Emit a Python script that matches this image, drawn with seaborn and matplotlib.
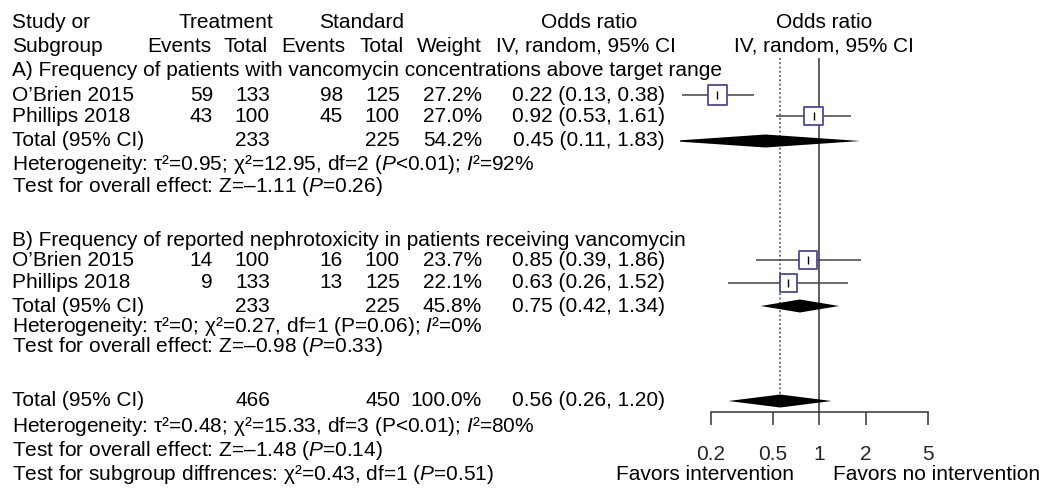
import numpy as np
import pandas as pd
import seaborn as sns
import matplotlib.pyplot as plt
from matplotlib.ticker import FixedLocator, NullLocator

# studies per subgroup
studies_a = ["O’Brien 2015", "Phillips 2018"]
ev_trt_a = [59, 43]
tot_trt_a = [133, 100]
ev_std_a = [98, 45]
tot_std_a = [125, 100]
weight_a = [27.2, 27.0]
or_a = [0.22, 0.92]
lo_a = [0.13, 0.53]
hi_a = [0.38, 1.61]

studies_b = ["O’Brien 2015", "Phillips 2018"]
ev_trt_b = [14, 9]
tot_trt_b = [100, 133]
ev_std_b = [16, 13]
tot_std_b = [100, 125]
weight_b = [23.7, 22.1]
or_b = [0.85, 0.63]
lo_b = [0.39, 0.26]
hi_b = [1.86, 1.52]

# pooled results: subgroup A, subgroup B, overall
pooled_trt = [233, 233, 466]
pooled_std = [225, 225, 450]
pooled_weight = [54.2, 45.8, 100.0]
pooled_or = [0.45, 0.75, 0.56]
pooled_lo = [0.11, 0.42, 0.26]
pooled_hi = [1.83, 1.34, 1.20]

ticks = [0.2, 0.5, 1, 2, 5]

sns.set_theme(style="white")
plt.rcParams['font.family'] = ['Liberation Sans', 'DejaVu Sans']
plt.rcParams['mathtext.fontset'] = 'custom'
plt.rcParams['mathtext.rm'] = 'Liberation Sans'
plt.rcParams['mathtext.it'] = 'Liberation Sans:italic'
FS = 15

W, H = 1048, 491
fig = plt.figure(figsize=(W / 100, H / 100), dpi=100)

# text layer in pixel coordinates
tx = fig.add_axes([0, 0, 1, 1])
tx.set_xlim(0, W)
tx.set_ylim(H, 0)
tx.axis('off')

# layout (pixel rows / columns)
y_hdr1, y_hdr2 = 22, 46
y_title_a = 70
y_rows_a = [95, 116]
y_tot_a, y_het_a, y_test_a = 141, 164, 187
y_title_b = 240
y_rows_b = [260, 283]
y_tot_b, y_het_b, y_test_b = 306, 326, 347
y_all, y_het_all, y_test_all, y_sub = 401, 427, 450, 474
y_axis = 412
x_left = 12
x_ev_t, x_tot_t, x_ev_s, x_tot_s, x_w, x_or = 213, 270, 343, 400, 482, 665


def t(x, y, s, ha='left'):
    tx.text(x, y, s, ha=ha, va='center', fontsize=FS, color='black')


def fmt_or(e, l, h):
    return f"{e:.2f} ({l:.2f}, {h:.2f})"


# headers
t(x_left, y_hdr1, "Study or")
t(x_left, y_hdr2, "Subgroup")
t(226, y_hdr1, "Treatment", 'center')
t(362, y_hdr1, "Standard", 'center')
t(179, y_hdr2, "Events", 'center')
t(246, y_hdr2, "Total", 'center')
t(313, y_hdr2, "Events", 'center')
t(382, y_hdr2, "Total", 'center')
t(x_w, y_hdr2, "Weight", 'right')
t(589, y_hdr1, "Odds ratio", 'center')
t(586, y_hdr2, "IV, random, 95% CI", 'center')
t(824, y_hdr1, "Odds ratio", 'center')
t(824, y_hdr2, "IV, random, 95% CI", 'center')

t(x_left, y_title_a, "A) Frequency of patients with vancomycin concentrations above target range")
t(x_left, y_title_b, "B) Frequency of reported nephrotoxicity in patients receiving vancomycin")

groups = [
    (studies_a, ev_trt_a, tot_trt_a, ev_std_a, tot_std_a, weight_a, or_a, lo_a, hi_a, y_rows_a),
    (studies_b, ev_trt_b, tot_trt_b, ev_std_b, tot_std_b, weight_b, or_b, lo_b, hi_b, y_rows_b),
]
for names, et, nt, es, ns, w, o, l, h, ys in groups:
    for i, y in enumerate(ys):
        t(x_left, y, names[i])
        t(x_ev_t, y, str(et[i]), 'right')
        t(x_tot_t, y, str(nt[i]), 'right')
        t(x_ev_s, y, str(es[i]), 'right')
        t(x_tot_s, y, str(ns[i]), 'right')
        t(x_w, y, f"{w[i]:.1f}%", 'right')
        t(x_or, y, fmt_or(o[i], l[i], h[i]), 'right')

for k, y in enumerate([y_tot_a, y_tot_b, y_all]):
    t(x_left, y, "Total (95% CI)")
    t(x_tot_t, y, str(pooled_trt[k]), 'right')
    t(x_tot_s, y, str(pooled_std[k]), 'right')
    t(x_w, y, f"{pooled_weight[k]:.1f}%", 'right')
    t(x_or, y, fmt_or(pooled_or[k], pooled_lo[k], pooled_hi[k]), 'right')

t(x_left, y_het_a, r"Heterogeneity: τ²=0.95; χ²=12.95, df=2 ($\mathit{P}$<0.01); $\mathit{I}$²=92%")
t(x_left, y_test_a, r"Test for overall effect: Z=–1.11 ($\mathit{P}$=0.26)")
t(x_left, y_het_b, r"Heterogeneity: τ²=0; χ²=0.27, df=1 (P=0.06); $\mathit{I}$²=0%")
t(x_left, y_test_b, r"Test for overall effect: Z=–0.98 ($\mathit{P}$=0.33)")
t(x_left, y_het_all, r"Heterogeneity: τ²=0.48; χ²=15.33, df=3 (P<0.01); $\mathit{I}$²=80%")
t(x_left, y_test_all, r"Test for overall effect: Z=–1.48 ($\mathit{P}$=0.14)")
t(x_left, y_sub, r"Test for subgroup diffrences: χ²=0.43, df=1 ($\mathit{P}$=0.51)")

# forest panel on a log axis: 1 at x=819.3 px, 155.4 px per decade
x0_px, x1_px, one_px, dec_px = 680, W, 819.3, 155.4
ax = fig.add_axes([x0_px / W, 0, (x1_px - x0_px) / W, 1])
ax.set_xscale('log')
ax.set_xlim(10 ** ((x0_px - one_px) / dec_px), 10 ** ((x1_px - one_px) / dec_px))
ax.set_ylim(H, 0)
ax.patch.set_alpha(0)

df = pd.DataFrame({
    'or': or_a + or_b,
    'lo': lo_a + lo_b,
    'hi': hi_a + hi_b,
    'weight': weight_a + weight_b,
    'y': y_rows_a + y_rows_b,
})
df['s'] = df['weight'] * 6.9

ax.vlines(1, 58, y_axis, color='#333333', lw=1.1)
ax.vlines(pooled_or[2], 58, y_all, color='#444444', lw=1.1, linestyles=(0, (1.2, 1.6)))
ax.hlines(df['y'], df['lo'], df['hi'], color='#444444', lw=1.1)
sns.scatterplot(data=df, x='or', y='y', marker='s', s=df['s'].values,
                facecolor='white', edgecolor='#4a4a9a', linewidth=1.3, ax=ax, zorder=3)
sns.scatterplot(data=df, x='or', y='y', marker='|', s=40, color='black',
                linewidth=1.0, ax=ax, zorder=4)

for k, y in enumerate([y_tot_a, y_tot_b, y_all]):
    e, l, h = pooled_or[k], pooled_lo[k], pooled_hi[k]
    ax.fill([l, e, h, e], [y, y - 6.5, y, y + 6.5], color='black', lw=0, zorder=3)

for side in ['top', 'right', 'left']:
    ax.spines[side].set_visible(False)
ax.spines['bottom'].set_position(('data', y_axis))
ax.spines['bottom'].set_bounds(ticks[0], ticks[-1])
ax.spines['bottom'].set_color('#333333')
ax.spines['bottom'].set_linewidth(1.1)
ax.xaxis.set_major_locator(FixedLocator(ticks))
ax.xaxis.set_minor_locator(NullLocator())
ax.set_xticklabels([f"{v:g}" for v in ticks], fontsize=FS)
ax.tick_params(axis='x', direction='out', length=9.4, width=1.1, color='#333333', pad=14,
               bottom=True)
ax.set_yticks([])
ax.set_xlabel('')
ax.set_ylabel('')

t(705, 474, "Favors intervention", 'center')
t(937, 474, "Favors no intervention", 'center')

fig.savefig('out.png', dpi=100)
